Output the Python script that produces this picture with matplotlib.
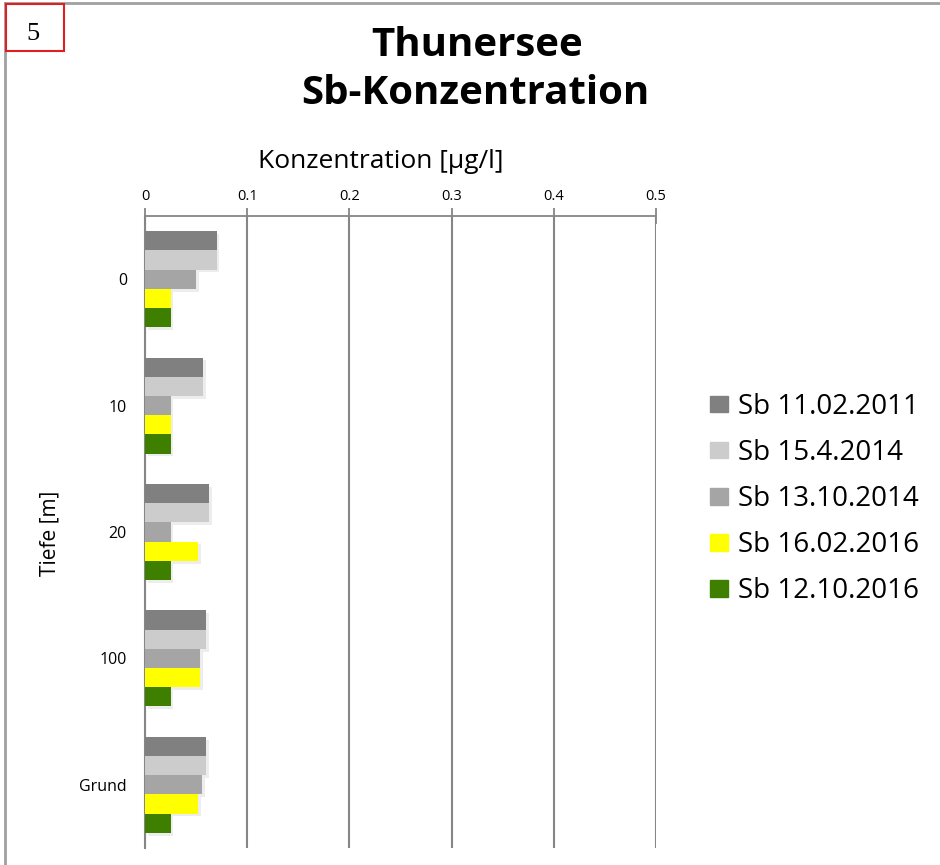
import numpy as np
import matplotlib
matplotlib.use("Agg")
import matplotlib.pyplot as plt
from matplotlib import patheffects as pe
from matplotlib.lines import Line2D
from matplotlib.patches import Rectangle

categories = ["0", "10", "20", "100", "Grund"]
series_names = ["Sb 11.02.2011", "Sb 15.4.2014", "Sb 13.10.2014", "Sb 16.02.2016", "Sb 12.10.2016"]
sb_2011_02 = [0.070, 0.057, 0.063, 0.060, 0.060]
sb_2014_04 = [0.070, 0.057, 0.063, 0.060, 0.060]
sb_2014_10 = [0.050, 0.025, 0.025, 0.054, 0.056]
sb_2016_02 = [0.025, 0.025, 0.052, 0.054, 0.052]
sb_2016_10 = [0.025, 0.025, 0.025, 0.025, 0.025]
colors = ["#808080", "#cccccc", "#a5a5a5", "#ffff00", "#3f7f00"]
x_ticks = [0, 0.1, 0.2, 0.3, 0.4, 0.5]
x_ticklabels = ["0", "0.1", "0.2", "0.3", "0.4", "0.5"]

values = [sb_2011_02, sb_2014_04, sb_2014_10, sb_2016_02, sb_2016_10]

plt.rcParams['font.family'] = ['Open Sans', 'DejaVu Sans']

fig = plt.figure(figsize=(9.4, 8.65), dpi=100)
W, H = 940, 865
ax = fig.add_axes([145 / W, 1 - 848 / H, (656 - 145) / W, (848 - 216) / H])

n = len(values)
h = 0.76 / n
idx = np.arange(len(categories))
shadow = [pe.SimplePatchShadow(offset=(2, -2), shadow_rgbFace="#000000", alpha=0.07), pe.Normal()]
for j, (vals, name, c) in enumerate(zip(values, series_names, colors)):
    ypos = idx - 0.38 + h / 2 + j * h
    bars = ax.barh(ypos, vals, height=h, color=c, label=name, zorder=3)
    for b in bars:
        b.set_path_effects(shadow)

ax.set_xlim(0, 0.5)
ax.set_ylim(len(categories) - 0.5, -0.5)
ax.xaxis.tick_top()
ax.set_xticks(x_ticks)
ax.set_xticklabels(x_ticklabels, fontsize=10.5)
ax.set_yticks(idx)
ax.set_yticklabels(categories, fontsize=11.5)
ax.tick_params(axis="x", direction="inout", length=12, width=1.3, color="#868686", pad=3)
ax.tick_params(axis="y", length=0, pad=13)
ax.grid(axis="x", color="#868686", linewidth=1.5, zorder=1)
ax.set_axisbelow(True)
for s in ["right", "bottom"]:
    ax.spines[s].set_visible(False)
ax.spines["top"].set_color("#868686")
ax.spines["top"].set_linewidth(1.3)
ax.spines["left"].set_color("#868686")
ax.spines["left"].set_linewidth(1.5)

fig.text(381 / W, 1 - 162 / H, "Konzentration [\u03bcg/l]", fontsize=19, ha="center", va="center")
fig.text(50 / W, 1 - 533 / H, "Tiefe [m]", rotation=90, fontsize=15, ha="center", va="center")

fig.text(477 / W, 1 - 45 / H, "Thunersee", fontsize=29, fontweight="bold", ha="center", va="center")
fig.text(475 / W, 1 - 94 / H, "Sb-Konzentration", fontsize=29, fontweight="bold", ha="center", va="center")

handles = [Rectangle((0, 0), 1, 1, color=c) for c in colors]
leg = fig.legend(handles, series_names, loc="center left", bbox_to_anchor=(685 / W, 1 - 499 / H),
                 frameon=False, fontsize=20, handlelength=0.65, handleheight=0.55,
                 handletextpad=0.35, labelspacing=0.65)

# outer frame lines
fig.add_artist(Line2D([5 / W, 1], [1 - 3 / H, 1 - 3 / H], color="#a0a0a0", linewidth=2, zorder=1))
fig.add_artist(Line2D([5 / W, 5 / W], [1 - 3 / H, 0], color="#a0a0a0", linewidth=2, zorder=1))
fig.add_artist(Rectangle((6 / W, 1 - 51 / H), 58 / W, 47 / H, fill=False, edgecolor="#e02020",
                         linewidth=1.5, zorder=5))
fig.text(33 / W, 1 - 34 / H, "5", fontsize=19, family="Liberation Serif", ha="center", va="center")

fig.savefig("out.png", dpi=100)
